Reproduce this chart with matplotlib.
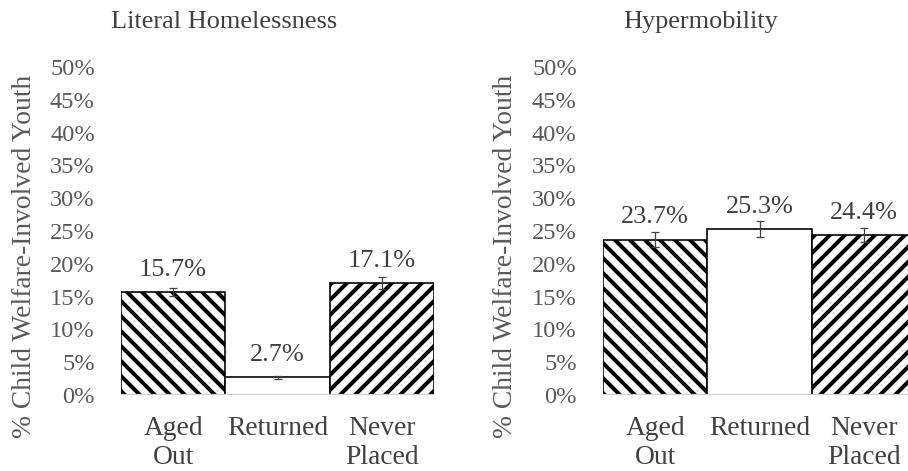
import matplotlib
matplotlib.use("Agg")
import matplotlib.pyplot as plt

plt.rcParams['font.family'] = ['Liberation Serif', 'DejaVu Serif']
plt.rcParams['hatch.linewidth'] = 3.2

categories = ['Aged\nOut', 'Returned', 'Never\nPlaced']
titles = ['Literal Homelessness', 'Hypermobility']
homeless_vals = [15.7, 2.7, 17.1]
homeless_err = [0.6, 0.2, 0.9]
hyper_vals = [23.7, 25.3, 24.4]
hyper_err = [1.2, 1.2, 1.1]
yticks = [0, 5, 10, 15, 20, 25, 30, 35, 40, 45, 50]
ytick_labels = [f"{t}%" for t in yticks]
ylabel = '% Child Welfare-Involved Youth'

hatches = ['\\\\', '', '//']
fills = ['white', 'white', 'white']

W, H = 908, 471
DPI = 90
fig = plt.figure(figsize=(W / DPI, H / DPI), dpi=DPI)

panels = [
    (homeless_vals, homeless_err, titles[0], 121, 313, 224, 25),
    (hyper_vals, hyper_err, titles[1], 603, 313, 701, 506),
]

text_col = '#404040'
tick_col = '#595959'

for vals, errs, title, left_px, width_px, title_x, ylab_x in panels:
    ax = fig.add_axes([left_px / W, (H - 395) / H, width_px / W, (395 - 67) / H])
    x = list(range(len(categories)))
    ax.bar(x, vals, width=1.0, color=fills, edgecolor='black', linewidth=1.3,
           hatch=hatches, zorder=2)
    ax.errorbar(x, vals, yerr=errs, fmt='none', ecolor='#404040', elinewidth=1.0,
                capsize=3.5, capthick=1.0, zorder=3)
    ax.axhline(0, color='#d0d0d0', linewidth=1.8, zorder=4)
    for xi, v in zip(x, vals):
        ax.annotate(f"{v}%", xy=(xi, v), xytext=(0, 13), textcoords='offset points',
                    ha='center', va='baseline', fontsize=21, color=text_col)
    ax.set_xlim(-0.5, 2.5)
    ax.set_ylim(0, 50)
    ax.set_yticks(yticks)
    ax.set_yticklabels(ytick_labels)
    ax.set_xticks(x)
    ax.set_xticklabels(categories, linespacing=1.18)
    ax.tick_params(axis='y', length=0, pad=21, labelsize=19.5, labelcolor=tick_col)
    ax.tick_params(axis='x', length=0, pad=17, labelsize=22, labelcolor=text_col)
    for s in ax.spines.values():
        s.set_visible(False)
    fig.text(title_x / W, 1 - 22 / H, title, ha='center', va='center',
             fontsize=21, color=text_col)
    fig.text(ylab_x / W, 1 - 256 / H, ylabel, rotation=90, ha='center', va='center',
             fontsize=22, color=tick_col)

fig.savefig('out.png', dpi=DPI)
